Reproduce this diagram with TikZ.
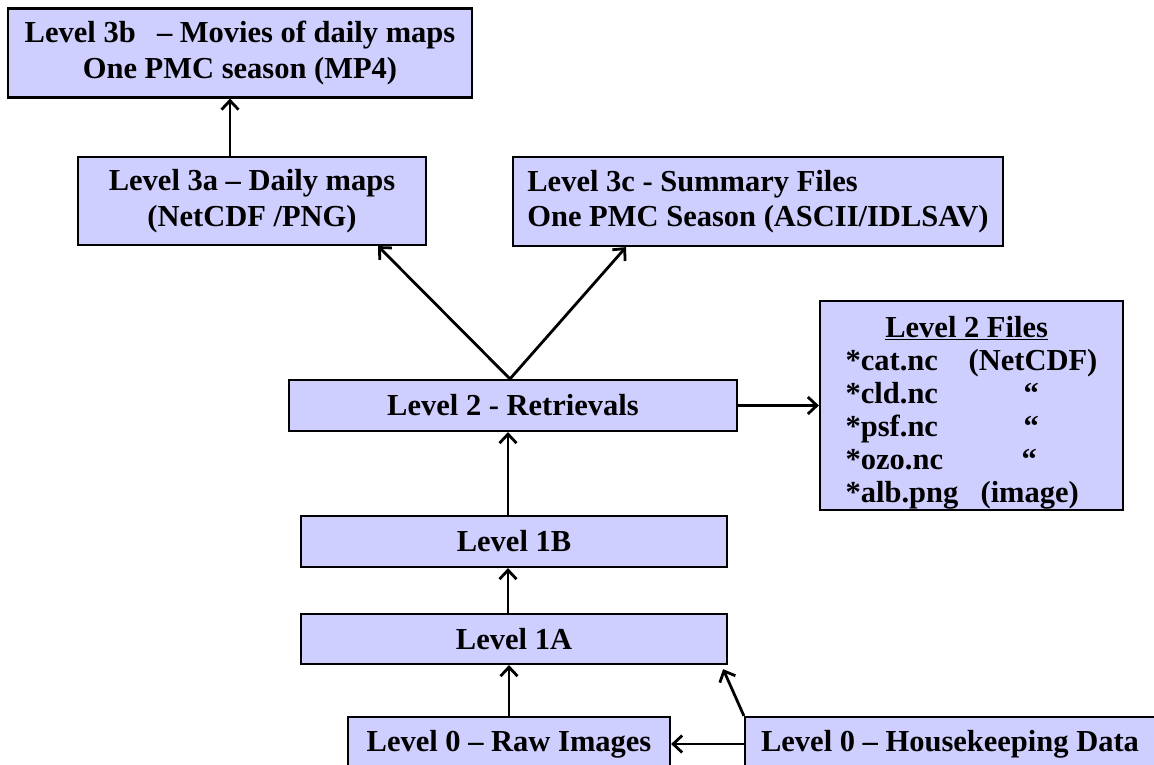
\documentclass[tikz,border=0pt]{standalone}
\usepackage{fontspec}
\setmainfont{Liberation Serif}
\usepackage{tikz}
\usetikzlibrary{arrows.meta,calc}

\definecolor{boxfill}{RGB}{207,207,255}

\begin{document}
\begin{tikzpicture}[x=1pt,y=-1pt,
  box/.style={draw=black, line width=2.2pt, fill=boxfill, inner sep=0pt,
    font=\fontsize{30.5}{35.5}\selectfont\bfseries},
  arr/.style={line width=2.8pt, -{Straight Barb[length=9pt,width=17pt]}}]
  \useasboundingbox (0,0) rectangle (1154,765);

  % Level 3 products
  \node[box, minimum width=464pt, minimum height=89pt, align=center] (l3b) at (240,53)
    {Level 3b\hspace{0.45em} -- Movies of daily maps\\One PMC season (MP4)};
  \node[box, minimum width=348pt, minimum height=88pt, align=center] (l3a) at (252,201)
    {Level 3a -- Daily maps\\(NetCDF /PNG)};
  \node[box, minimum width=490pt, minimum height=89pt, align=left] (l3c) at (758,201.5)
    {Level 3c - Summary Files\\One PMC Season (ASCII/IDLSAV)};

  % Level 2
  \node[box, minimum width=448pt, minimum height=51pt] (l2) at (513,405.5) {Level 2 - Retrievals};
  \node[box, minimum width=303pt, minimum height=209pt, align=left,
    font=\fontsize{30.5}{33}\selectfont\bfseries] (files) at (971.5,405.5)
    {\rule{0pt}{36pt}\makebox[242pt]{\underline{Level 2 Files}}\\
     \makebox[123pt][l]{*cat.nc}(NetCDF)\\
     \makebox[178pt][l]{*cld.nc}``\\
     \makebox[178pt][l]{*psf.nc}``\\
     \makebox[176pt][l]{*ozo.nc}``\\
     \makebox[135pt][l]{*alb.png}(image)};

  % Level 1
  \node[box, minimum width=426pt, minimum height=51pt] (l1b) at (514,541.5) {Level 1B};
  \node[box, minimum width=426pt, minimum height=50pt] (l1a) at (514,639) {Level 1A};

  % Level 0
  \node[box, minimum width=322pt, minimum height=54pt] (raw) at (509,744) {Level 0 -- Raw Images};
  \node[box, minimum width=410pt, minimum height=54pt] (hk) at (950,744) {Level 0 -- Housekeeping Data};

  % Processing chain
  \draw[arr] (raw.north) -- (raw.north |- l1a.south);
  \draw[arr] (hk.north west) -- ([xshift=-5pt,yshift=-4pt]l1a.south east);
  \draw[arr] (hk.west) -- (raw.east);
  \draw[arr] ([xshift=-6pt]l1a.north) -- ([xshift=-6pt]l1b.south);
  \draw[arr] ([xshift=-6pt]l1b.north) -- ([xshift=-6pt]l1b.north |- l2.south);

  % Products of level 2
  \draw[arr] (l2.east) -- (l2.east -| files.west);
  \draw[arr] ([xshift=-3pt]l2.north) -- ([xshift=126pt]l3a.south);
  \draw[arr] ([xshift=-3pt]l2.north) -- ([xshift=-132pt]l3c.south);
  \draw[arr] ([xshift=-22pt]l3a.north) -- ([xshift=-22pt]l3a.north |- l3b.south);
\end{tikzpicture}
\end{document}
